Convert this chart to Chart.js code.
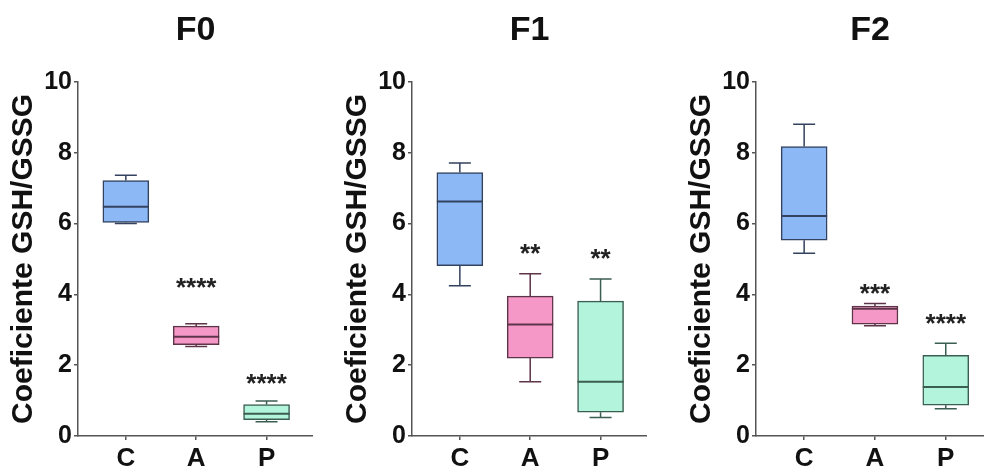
<!DOCTYPE html>
<html>
<head>
<meta charset="utf-8">
<script src="https://cdn.jsdelivr.net/npm/chart.js@4.4.1/dist/chart.umd.min.js"></script>
<style>
  html, body { margin: 0; padding: 0; background: #fff; }
  body { width: 984px; height: 466px; position: relative; overflow: hidden; }
  .panel { position: absolute; top: 0; height: 466px; }
</style>
</head>
<body>
<div class="panel" style="left:0;width:313px"><canvas id="c0"></canvas></div>
<div class="panel" style="left:334px;width:313px"><canvas id="c1"></canvas></div>
<div class="panel" style="left:678px;width:306px"><canvas id="c2"></canvas></div>

<script>
// ---- data ----
const groups = ["C", "A", "P"];
const panelTitles = ["F0", "F1", "F2"];
const yTicks = [0, 2, 4, 6, 8, 10];

// F0
const f0Min    = [6.00, 2.53, 0.40];
const f0Q1     = [6.03, 2.58, 0.46];
const f0Median = [6.47, 2.80, 0.63];
const f0Q3     = [7.21, 3.10, 0.89];
const f0Max    = [7.36, 3.17, 0.99];
const f0Stars  = ["", "****", "****"];
const f0StarY  = [null, 4.38, 1.67];

// F1
const f1Min    = [4.24, 1.53, 0.52];
const f1Q1     = [4.81, 2.20, 0.67];
const f1Median = [6.62, 3.15, 1.53];
const f1Q3     = [7.44, 3.95, 3.81];
const f1Max    = [7.71, 4.58, 4.43];
const f1Stars  = ["", "**", "**"];
const f1StarY  = [null, 5.34, 5.20];

// F2
const f2Min    = [5.16, 3.11, 0.77];
const f2Q1     = [5.53, 3.16, 0.87];
const f2Median = [6.21, 3.59, 1.38];
const f2Q3     = [8.17, 3.67, 2.28];
const f2Max    = [8.80, 3.74, 2.62];
const f2Stars  = ["", "***", "****"];
const f2StarY  = [null, 4.20, 3.35];

// ---- styles ----
const FONT = "'Liberation Sans', Arial, sans-serif";
const fills   = ["#8cb9f6", "#f598c8", "#b3f5dc"];
const strokes = ["#33425e", "#5e3449", "#3b5e52"];
const axisColor = "#555";


// whiskers, medians and the significance stars
const boxStats = {
    id: "boxStats",
    afterDatasetsDraw(chart, args, opts) {
        const ctx = chart.ctx;
        const xs = chart.scales.x;
        const ys = chart.scales.y;
        const half = 23;
        const cap = 11;

        ctx.save();
        groups.forEach((g, i) => {
            const x = xs.getPixelForValue(i + 1);

            ctx.strokeStyle = strokes[i];
            ctx.lineWidth = 1.5;
            ctx.beginPath();
            // upper whisker
            ctx.moveTo(x, ys.getPixelForValue(opts.q3[i]));
            ctx.lineTo(x, ys.getPixelForValue(opts.max[i]));
            ctx.moveTo(x - cap, ys.getPixelForValue(opts.max[i]));
            ctx.lineTo(x + cap, ys.getPixelForValue(opts.max[i]));
            // lower whisker
            ctx.moveTo(x, ys.getPixelForValue(opts.q1[i]));
            ctx.lineTo(x, ys.getPixelForValue(opts.min[i]));
            ctx.moveTo(x - cap, ys.getPixelForValue(opts.min[i]));
            ctx.lineTo(x + cap, ys.getPixelForValue(opts.min[i]));
            ctx.stroke();

            // median
            ctx.lineWidth = 2;
            ctx.beginPath();
            ctx.moveTo(x - half, ys.getPixelForValue(opts.median[i]));
            ctx.lineTo(x + half, ys.getPixelForValue(opts.median[i]));
            ctx.stroke();

            // stars
            if (opts.stars[i]) {
                const size = 26;
                ctx.fillStyle = "#222";
                ctx.font = "bold " + size + "px " + FONT;
                ctx.textAlign = "center";
                ctx.textBaseline = "alphabetic";
                ctx.fillText(opts.stars[i], x, ys.getPixelForValue(opts.starY[i]) + size * 0.57);
            }
        });
        ctx.restore();
    }
};


function makePanel(canvasId, title, min, q1, median, q3, max, stars, starY, xMax) {

    const ctx = document.getElementById(canvasId).getContext("2d");

    return new Chart(ctx, {

        type: "bar",

        data: {
            datasets: [{
                data: groups.map((g, i) => ({ x: i + 1, y: [q1[i], q3[i]] })),
                backgroundColor: fills,
                borderColor: strokes,
                borderWidth: 1.5,
                borderSkipped: false,
                barThickness: 46
            }]
        },

        options: {
            responsive: true,
            maintainAspectRatio: false,
            animation: false,
            layout: { padding: 0 },
            plugins: {
                legend: { display: false },
                tooltip: { enabled: false },
                title: {
                    display: true,
                    fullSize: false,
                    text: title,
                    color: "#111",
                    font: { family: FONT, size: 34, weight: "bold" },
                    padding: { top: 10, bottom: 31 }
                },
                boxStats: { min, q1, median, q3, max, stars, starY }
            },
            scales: {
                x: {
                    type: "linear",
                    min: 0.32,
                    max: xMax,
                    offset: false,
                    afterBuildTicks: (s) => { s.ticks = groups.map((g, i) => ({ value: i + 1 })); },
                    afterFit: (s) => { s.height = 30; },
                    ticks: {
                        autoSkip: false,
                        maxRotation: 0,
                        padding: 3,
                        color: "#111",
                        font: { family: FONT, size: 26, weight: "bold" },
                        callback: (v) => groups[v - 1]
                    },
                    grid: {
                        display: true,
                        offset: false,
                        drawOnChartArea: false,
                        drawTicks: true,
                        tickLength: 4,
                        color: axisColor,
                        lineWidth: 1.5
                    },
                    border: { display: true, color: axisColor, width: 1.5 }
                },
                y: {
                    min: 0,
                    max: 10,
                    afterBuildTicks: (s) => { s.ticks = yTicks.map(v => ({ value: v })); },
                    afterFit: (s) => { s.width = 78; },
                    ticks: {
                        padding: 2,
                        color: "#111",
                        font: { family: FONT, size: 25, weight: "bold" }
                    },
                    grid: {
                        display: true,
                        drawOnChartArea: false,
                        drawTicks: true,
                        tickLength: 4,
                        color: axisColor,
                        lineWidth: 1.5
                    },
                    border: { display: true, color: axisColor, width: 1.5 },
                    title: {
                        display: true,
                        text: "Coeficiente GSH/GSSG",
                        color: "#111",
                        font: { family: FONT, size: 30, weight: "bold" },
                        padding: { top: 6, bottom: 0 }
                    }
                }
            }
        },

        plugins: [boxStats]

    });

}


makePanel("c0", panelTitles[0], f0Min, f0Q1, f0Median, f0Q3, f0Max, f0Stars, f0StarY, 3.66);
makePanel("c1", panelTitles[1], f1Min, f1Q1, f1Median, f1Q3, f1Max, f1Stars, f1StarY, 3.66);
makePanel("c2", panelTitles[2], f2Min, f2Q1, f2Median, f2Q3, f2Max, f2Stars, f2StarY, 3.54);
</script>
</body>
</html>
